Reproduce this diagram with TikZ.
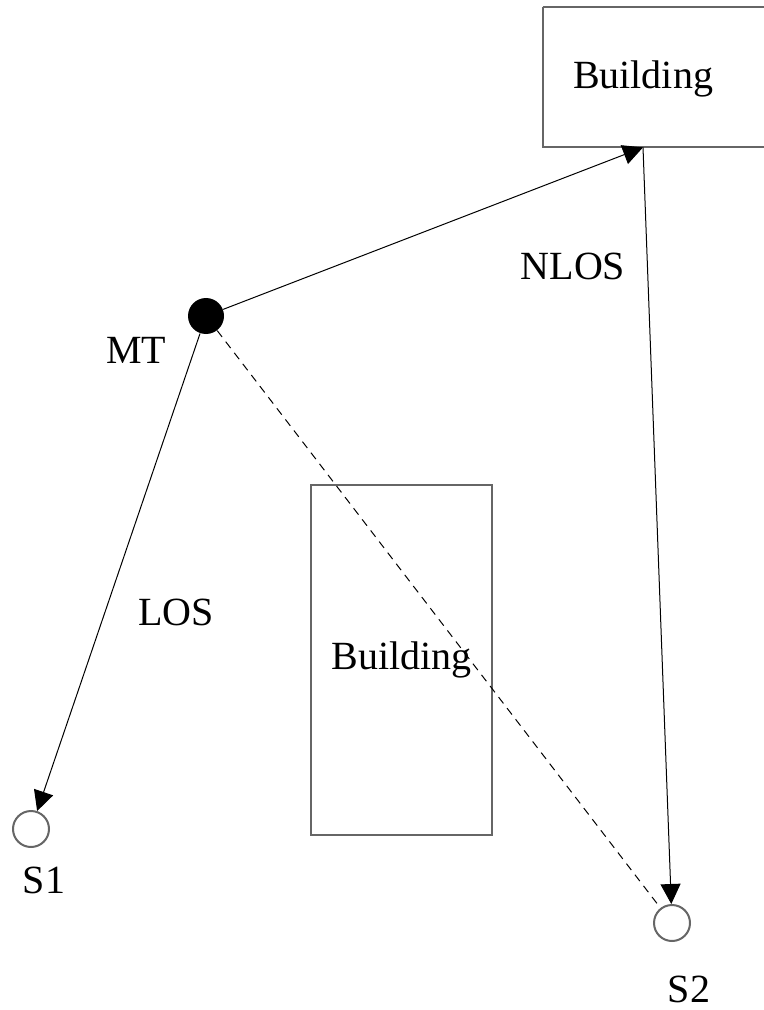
\documentclass[tikz,border=0pt]{standalone}
\usepackage{fontspec}
\setmainfont{Liberation Serif}
\usepackage{tikz}
\usetikzlibrary{arrows.meta,positioning}

\begin{document}
\begin{tikzpicture}[
    x=0.5pt, y=-0.5pt,
    font=\fontsize{20}{24}\selectfont,
    building/.style={rectangle, draw=black!60, line width=1pt, align=center},
    station/.style={circle, draw=black!60, line width=1pt, fill=white, minimum size=18pt, inner sep=0pt},
    terminal/.style={circle, fill=black, minimum size=18pt, inner sep=0pt},
    link/.style={-{Triangle[length=10pt,width=10pt]}, line width=0.5pt},
    label/.style={anchor=base, inner sep=0pt},
]
    \clip (0,0) rectangle (764,1010);
    \useasboundingbox (0,0) rectangle (764,1010);

    % Buildings
    \node[minimum width=200pt*0.5, minimum height=140pt*0.5, inner sep=0pt] (bldgtop) at (643,77) {};
    \node[label] at (643,89) {Building};
    \draw[draw=black!60, line width=1pt] (bldgtop.north west) -- ++(300,0)
        (bldgtop.north west) -- (bldgtop.south west) -- ++(300,0);
    \node[building, minimum width=90.5pt, minimum height=175pt] (bldgmid) at (401.5,660) {Building};

    % Terminal and stations
    \node[terminal] (mt) at (206,316) {};
    \node[station] (s1) at (31,829) {};
    \node[station] (s2) at (672,923) {};

    % Paths
    \draw[link] (mt) -- (bldgtop.south);
    \draw[link] (bldgtop.south) -- (s2);
    \draw[link] (mt) -- (s1);
    \draw[line width=0.5pt, dash pattern=on 4pt off 3pt] (mt) -- (s2);

    % Labels
    \node[label] (nlos) at (573,280) {NLOS};
    \node[label] (mtlabel) at (136,363) {MT};
    \node[label] (los) at (176,625) {LOS};
    \node[label] (s1label) at (44,893) {S1};
    \node[label] (s2label) at (689,1002) {S2};
\end{tikzpicture}
\end{document}
